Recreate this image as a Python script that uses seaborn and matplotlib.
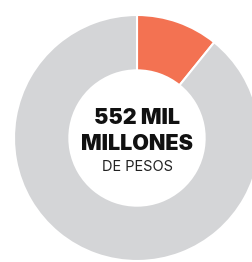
import matplotlib.pyplot as plt
import seaborn as sns

# Datos del grafico de dona
etiquetas = ['Monto', 'Resto']
valores = [10.8, 89.2]
colores = ['#F37252', '#D4D5D7']

sns.set_theme(style="white")
plt.rcParams['font.family'] = ['Inter', 'DejaVu Sans']

fig = plt.figure(figsize=(2.53, 2.62), dpi=100)
# el circulo se sale un poco por la derecha, como en el original
ax = fig.add_axes([14 / 253, 1 / 262, 246 / 253, 246 / 262])
ax.pie(valores, colors=colores, startangle=90, counterclock=False,
       wedgeprops=dict(width=0.45, edgecolor='white', linewidth=1.5),
       radius=1)
ax.set_xlim(-1, 1)
ax.set_ylim(-1, 1)
ax.set_aspect('equal')
ax.axis('off')

# Texto central
ax.text(0, 0.16, '552 MIL', ha='center', va='center', fontsize=15.5,
        fontweight='black', color='#111111')
ax.text(0, -0.045, 'MILLONES', ha='center', va='center', fontsize=15.5,
        fontweight='black', color='#111111')
ax.text(0, -0.235, 'DE PESOS', ha='center', va='center', fontsize=10.5,
        color='#222222')

fig.savefig('out.png', dpi=100)
